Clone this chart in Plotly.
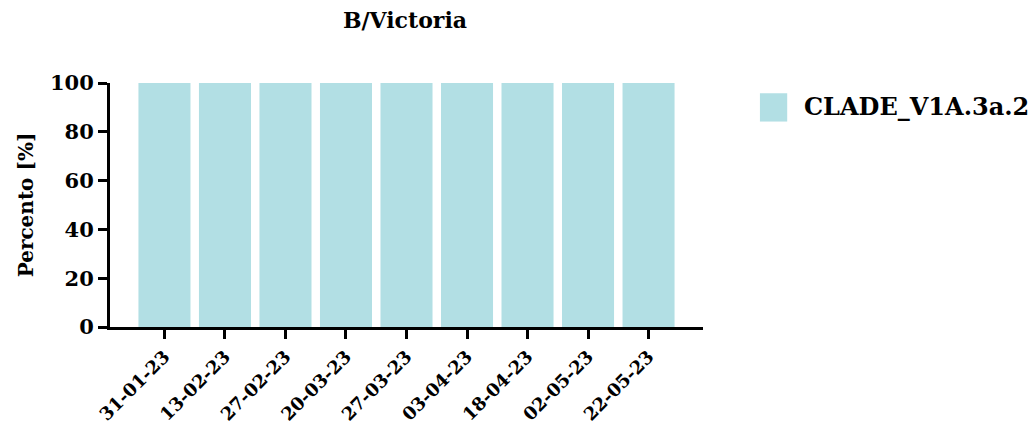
import plotly.graph_objects as go

dates = ["31-01-23", "13-02-23", "27-02-23", "20-03-23", "27-03-23",
         "03-04-23", "18-04-23", "02-05-23", "22-05-23"]
clade_v1a3a2 = [100, 100, 100, 100, 100, 100, 100, 100, 100]
series_name = "CLADE_V1A.3a.2"
y_ticks = [0, 20, 40, 60, 80, 100]

FONT = "DejaVu Serif"
BAR_COLOR = "#b2dfe4"

fig = go.Figure()
fig.add_trace(go.Bar(
    x=dates, y=clade_v1a3a2, name=series_name,
    marker=dict(color=BAR_COLOR, line=dict(width=0)),
    showlegend=False,
))

# Legend key (larger square than Plotly's native bar legend symbol)
fig.add_shape(type="rect", xref="paper", yref="paper",
              x0=1.096, x1=1.142, y0=0.842, y1=0.958,
              fillcolor=BAR_COLOR, line=dict(width=0))
fig.add_annotation(text=f"<b>{series_name}</b>", xref="paper", yref="paper",
                   x=1.167, y=0.902, xanchor="left", yanchor="middle",
                   showarrow=False,
                   font=dict(family=FONT, size=24, color="black"))

fig.update_layout(
    width=1036, height=436,
    margin=dict(l=102, r=341, t=75, b=117),
    paper_bgcolor="white", plot_bgcolor="white",
    bargap=0.14,
    font=dict(family=FONT, color="black"),
    title=dict(text="<b>B/Victoria</b>", x=397/1036, xanchor="center",
               y=1 - 12/436, yanchor="middle",
               font=dict(family=FONT, size=22, color="black")),
)

fig.update_xaxes(
    type="category", range=[-0.9, 8.9],
    showline=True, linecolor="black", linewidth=3,
    ticks="outside", ticklen=9, tickwidth=3, tickcolor="black",
    tickangle=-45, showgrid=False, zeroline=False,
    tickfont=dict(family=FONT, size=18, color="black", weight="bold"),
)
fig.update_yaxes(
    range=[0, 100], tickvals=y_ticks,
    showline=True, linecolor="black", linewidth=3,
    ticks="outside", ticklen=9, tickwidth=3, tickcolor="black",
    showgrid=False, zeroline=False,
    tickfont=dict(family=FONT, size=21, color="black", weight="bold"),
    title=dict(text="<b>Percento [%]</b>", standoff=11,
               font=dict(family=FONT, size=20, color="black")),
)

fig.write_html("out.html")
